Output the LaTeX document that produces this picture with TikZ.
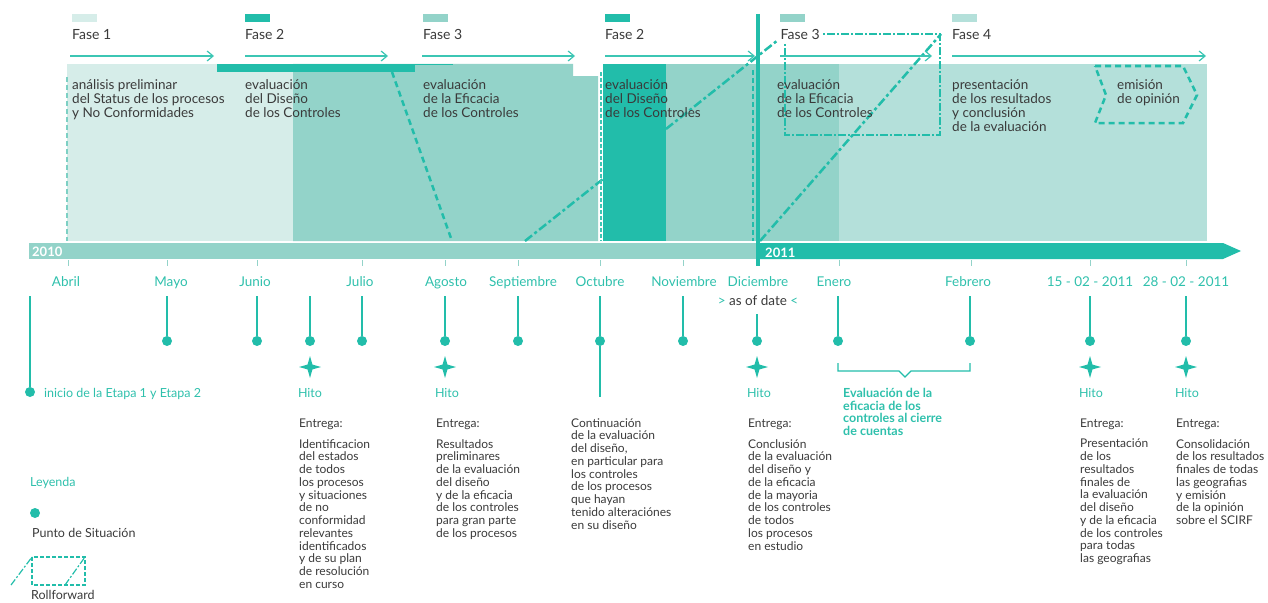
\documentclass[tikz,border=0pt]{standalone}
\usepackage{fontspec}
\setmainfont{Lato}
\usetikzlibrary{arrows.meta,shapes.geometric}

\definecolor{tealdark}{HTML}{22BDAA}
\definecolor{tealmid}{HTML}{93D3C9}
\definecolor{teallight}{HTML}{D6EDE9}
\definecolor{tealpale}{HTML}{B4E0DA}
\definecolor{tealtext}{HTML}{2FC0AC}
\definecolor{tealline}{HTML}{3CC6B4}
\definecolor{tealdash}{HTML}{7DD0C4}
\definecolor{graytext}{HTML}{3A3A3A}

\begin{document}
\begin{tikzpicture}[
x=1pt, y=-1pt, % pixel grid, y grows downwards
>={Straight Barb[length=6pt,width=10pt]},
every node/.style={inner sep=0pt, text=graytext},
swatch/.style={anchor=north west, minimum width=25pt, minimum height=8pt},
fase/.style={anchor=base west, font=\fontsize{14}{14}\selectfont},
phase/.style={->, draw=tealline, line width=1.2pt},
blocktext/.style={anchor=north west, align=left, font=\fontsize{13.5}{14}\selectfont},
year/.style={anchor=base west, text=white, font=\fontsize{13}{13}\selectfont\bfseries},
month/.style={anchor=base, text=tealtext, font=\fontsize{13.5}{13.5}\selectfont},
tick/.style={draw=tealmid, line width=1pt},
stem/.style={draw=tealdark, line width=1.5pt},
dot/.style={circle, fill=tealdark, minimum size=10pt},
hitostar/.style={star, star points=4, star point ratio=3.2, fill=tealdark, minimum size=22pt},
hito/.style={anchor=base, text=tealtext, font=\fontsize{12.5}{12.5}\selectfont},
entrega/.style={anchor=base west, font=\fontsize{12}{12}\selectfont},
desc/.style={anchor=north west, align=left, font=\fontsize{12}{12.75}\selectfont},
rollfw/.style={draw=tealdark, line width=2.5pt, dash pattern=on 9pt off 3pt on 3pt off 3pt},
rollbox/.style={draw=tealdark, line width=1.2pt, dash pattern=on 8pt off 2pt on 2pt off 2pt},
dashline/.style={draw=tealdark, line width=2.5pt, dash pattern=on 6pt off 4pt}
]
\useasboundingbox (0,0) rectangle (1268,602);

% ================= Phase blocks =================
% light block of phase 1, then the medium one with its small notch
\fill[teallight] (67,64) rectangle (293,241);
\fill[tealmid] (293,64) -- (573,64) -- (573,76) -- (598,76) -- (598,241) -- (293,241) -- cycle;
\fill[tealdark] (217,64) rectangle (415,72);
\draw[tealdark, line width=1pt] (415,64.5) -- (453,64.5);
\fill[tealmid] (666,64) rectangle (756,241);

% first rollforward runs under the dark block
\coordinate (rf1s) at (525,241);
\coordinate (rf1e) at (778,40);
\draw[rollfw] (rf1s) -- (rf1e);
\fill[tealdark] (603,64) rectangle (666,241);
\draw[tealline, line width=2pt, dash pattern=on 4pt off 2pt] (600.5,72) -- (600.5,241);

% 2011 side
\fill[tealmid] (760,64) rectangle (839,241);
\fill[tealpale] (839,64) rectangle (1207,241);

% second rollforward and its box
\draw[rollbox] (785,34) rectangle (940,135);
\coordinate (rf2s) at (760,241);
\coordinate (rf2e) at (941,34);
\draw[rollfw] (rf2s) -- (rf2e);

% dashed guides
\coordinate (dg1s) at (392,72);
\coordinate (dg1e) at (452,241);
\draw[dashline] (dg1s) -- (dg1e);
\draw[tealdash, line width=2pt, dash pattern=on 5pt off 3pt] (67,77) -- (67,241);
\draw[tealdark, line width=1.5pt, dash pattern=on 5pt off 3pt] (753,70) -- (753,241);

% emision de opinion chevron
\draw[dashline] (1095,66) -- (1183,66) -- (1197,95) -- (1183,123) -- (1095,123) -- (1106,95) -- cycle;

% ================= Phase headers =================
\node[swatch, fill=teallight] (sw1) at (72,14) {};
\node[swatch, fill=tealdark] (sw2) at (245,14) {};
\node[swatch, fill=tealmid] (sw3) at (423,14) {};
\node[swatch, fill=tealdark] (sw4) at (605,14) {};
\node[swatch, fill=tealmid] (sw5) at (780,14) {};
\node[swatch, fill=tealpale] (sw6) at (952,14) {};

\node[fase] (fase1) at (72,40) {Fase 1};
\node[fase] (fase2) at (245,40) {Fase 2};
\node[fase] (fase3) at (423,40) {Fase 3};
\node[fase] (fase2b) at (605,40) {Fase 2};
\node[fase, fill=white, inner sep=1.5pt] (fase3b) at (779,40) {Fase 3};
\node[fase] (fase4) at (952,40) {Fase 4};

% phase arrows
\coordinate (a1s) at (70,56);   \coordinate (a1e) at (214,56);
\coordinate (a2s) at (245,56);  \coordinate (a2e) at (388,56);
\coordinate (a3s) at (422,56);  \coordinate (a3e) at (575,56);
\coordinate (a4s) at (605,56);  \coordinate (a4e) at (755,56);
\coordinate (a5s) at (780,56);  \coordinate (a5e) at (932,56);
\coordinate (a6s) at (952,56);  \coordinate (a6e) at (1206,56);
\draw[phase] (a1s) -- (a1e);
\draw[phase] (a2s) -- (a2e);
\draw[phase] (a3s) -- (a3e);
\draw[phase] (a4s) -- (a4e);
\draw[phase] (a5s) -- (a5e);
\draw[phase] (a6s) -- (a6e);

% block texts
\node[blocktext] (b1) at (72,79) {análisis preliminar\\del Status de los procesos\\y No Conformidades};
\node[blocktext] (b2) at (245,79) {evaluación\\del Diseño\\de los Controles};
\node[blocktext] (b3) at (423,79) {evaluación\\de la Eficacia\\de los Controles};
\node[blocktext] (b4) at (605,79) {evaluación\\del Diseño\\de los Controles};
\node[blocktext] (b5) at (777,79) {evaluación\\de la Eficacia\\de los Controles};
\node[blocktext] (b6) at (952,79) {presentación\\de los resultados\\y conclusión\\de la evaluación};
\node[blocktext] (b7) at (1117,79) {emisión\\de opinión};

% ================= Timeline =================
\fill[tealmid] (29,243) rectangle (757,259);
\fill[tealdark] (757,243) -- (1223,243) -- (1241,251) -- (1223,259) -- (757,259) -- cycle;
\coordinate (nowt) at (758,14);
\coordinate (nowb) at (758,266);
\draw[tealdark, line width=4pt] (nowt) -- (nowb);
\node[year] (y2010) at (32,256) {2010};
\node[year] (y2011) at (765,257) {2011};

\draw[tick] (68,260) -- ++(0,6) (167,260) -- ++(0,6) (257,260) -- ++(0,6)
  (362,260) -- ++(0,6) (445,260) -- ++(0,6) (518,260) -- ++(0,6)
  (600,260) -- ++(0,6) (683,260) -- ++(0,6) (839,260) -- ++(0,6)
  (971,260) -- ++(0,6) (1090,260) -- ++(0,6) (1186,260) -- ++(0,6);

% month labels
\node[month] (abr) at (66,286) {Abril};
\node[month] (may) at (171,286) {Mayo};
\node[month] (jun) at (255,286) {Junio};
\node[month] (jul) at (360,286) {Julio};
\node[month] (ago) at (446,286) {Agosto};
\node[month] (sep) at (523,286) {Septiembre};
\node[month] (oct) at (600,286) {Octubre};
\node[month] (nov) at (684,286) {Noviembre};
\node[month] (dic) at (758,286) {Diciembre};
\node[month] (ene) at (834,286) {Enero};
\node[month] (feb) at (968,286) {Febrero};
\node[month] (f15) at (1090,286) {15 - 02 - 2011};
\node[month] (f28) at (1186,286) {28 - 02 - 2011};
\node[anchor=base, font=\fontsize{13.5}{13.5}\selectfont] (asof) at (758,305)
  {{\color{tealtext}>} as of date {\color{tealtext}<}};

% ================= Situation points =================
\coordinate (sabr) at (30,296);   \node[dot] (dabr) at (30,392) {};
\coordinate (smay) at (167,296);  \node[dot] (dmay) at (167,341) {};
\coordinate (sjun) at (257,296);  \node[dot] (djun) at (257,341) {};
\coordinate (shi1) at (310,296);  \node[dot] (dhi1) at (310,341) {};
\coordinate (sjul) at (362,296);  \node[dot] (djul) at (362,341) {};
\coordinate (sago) at (445,296);  \node[dot] (dago) at (445,341) {};
\coordinate (ssep) at (518,296);  \node[dot] (dsep) at (518,341) {};
\coordinate (soct) at (600,296);  \node[dot] (doct) at (600,341) {};
\coordinate (snov) at (683,296);  \node[dot] (dnov) at (683,341) {};
\coordinate (sdic) at (757,314);  \node[dot] (ddic) at (757,341) {};
\coordinate (sene) at (838,296);  \node[dot] (dene) at (838,341) {};
\coordinate (sfeb) at (970,296);  \node[dot] (dfeb) at (970,341) {};
\coordinate (sf15) at (1090,296); \node[dot] (df15) at (1090,341) {};
\coordinate (sf28) at (1186,296); \node[dot] (df28) at (1186,341) {};
\coordinate (eoct) at (600,397);

\draw[stem] (sabr) -- (dabr);
\draw[stem] (smay) -- (dmay);
\draw[stem] (sjun) -- (djun);
\draw[stem] (shi1) -- (dhi1);
\draw[stem] (sjul) -- (djul);
\draw[stem] (sago) -- (dago);
\draw[stem] (ssep) -- (dsep);
\draw[stem] (soct) -- (doct) -- (eoct);
\draw[stem] (snov) -- (dnov);
\draw[stem] (sdic) -- (ddic);
\draw[stem] (sene) -- (dene);
\draw[stem] (sfeb) -- (dfeb);
\draw[stem] (sf15) -- (df15);
\draw[stem] (sf28) -- (df28);

\node[anchor=base west, text=tealtext, font=\fontsize{12.5}{12.5}\selectfont] (inicio) at (44,397)
  {inicio de la Etapa 1 y Etapa 2};

% ================= Milestones =================
\node[hitostar] (h1) at (310,367) {};
\node[hitostar] (h2) at (445,367) {};
\node[hitostar] (h3) at (757,367) {};
\node[hitostar] (h4) at (1090,367) {};
\node[hitostar] (h5) at (1186,367) {};
\node[hito] (hl1) at (310,397) {Hito};
\node[hito] (hl2) at (447,397) {Hito};
\node[hito] (hl3) at (759,397) {Hito};
\node[hito] (hl4) at (1091,397) {Hito};
\node[hito] (hl5) at (1187,397) {Hito};

% deliveries
\node[entrega] (e1) at (299,427) {Entrega:};
\node[entrega] (e2) at (436,427) {Entrega:};
\node[entrega] (e3) at (748,427) {Entrega:};
\node[entrega] (e4) at (1080,427) {Entrega:};
\node[entrega] (e5) at (1176,427) {Entrega:};

\node[desc] (g1) at (299,439) {Identificacion\\del estados\\de todos\\los procesos\\y situaciones\\de no\\conformidad\\relevantes\\identificados\\y de su plan\\de resolución\\en curso};
\node[desc] (g2) at (436,439) {Resultados\\preliminares\\de la evaluación\\del diseño\\y de la eficacia\\de los controles\\para gran parte\\de los procesos};
\node[desc] (g3) at (571,418) {Continuación\\de la evaluación\\del diseño,\\en particular para\\los controles\\de los procesos\\que hayan\\tenido alteraciónes\\en su diseño};
\node[desc] (g4) at (748,439) {Conclusión\\de la evaluación\\del diseño y\\de la eficacia\\de la mayoria\\de los controles\\de todos\\los procesos\\en estudio};
\node[desc] (g5) at (1080,439) {Presentación\\de los\\resultados\\finales de\\la evaluación\\del diseño\\y de la eficacia\\de los controles\\para todas\\las geografias};
\node[desc] (g6) at (1176,439) {Consolidación\\de los resultados\\finales de todas\\las geografias\\y emisión\\de la opinión\\sobre el SCIRF};

% bracket Enero - Febrero
\coordinate (brl) at (838,363);
\coordinate (brr) at (970,363);
\coordinate (brv) at (905,377);
\draw[tealdark, line width=1.2pt] (brl) |- ([xshift=-6pt]brv |- 0,371) -- (brv)
  -- ([xshift=6pt]brv |- 0,371) -| (brr);
\node[desc, text=tealtext, font=\fontsize{12.5}{12.75}\selectfont\bfseries] (cierre) at (843,388)
  {Evaluación de la\\eficacia de los\\controles al cierre\\de cuentas};

% ================= Legend =================
\node[anchor=base west, text=tealtext, font=\fontsize{12.5}{12.5}\selectfont] (leyenda) at (30,486) {Leyenda};
\node[dot] (ldot) at (35,513) {};
\node[anchor=base west, font=\fontsize{12.5}{12.5}\selectfont] (lpunto) at (32,537) {Punto de Situación};
\draw[tealdark, line width=1.2pt, dash pattern=on 4pt off 2pt] (32,557) rectangle (85,585);
\draw[tealdark, line width=1.2pt, dash pattern=on 7pt off 2pt on 2pt off 2pt] (11,585) -- (32,557);
\draw[tealdark, line width=1.2pt, dash pattern=on 7pt off 2pt on 2pt off 2pt] (65,585) -- (85,557);
\node[anchor=base west, font=\fontsize{12.5}{12.5}\selectfont] (lroll) at (31,599) {Rollforward};

\end{tikzpicture}
\end{document}
